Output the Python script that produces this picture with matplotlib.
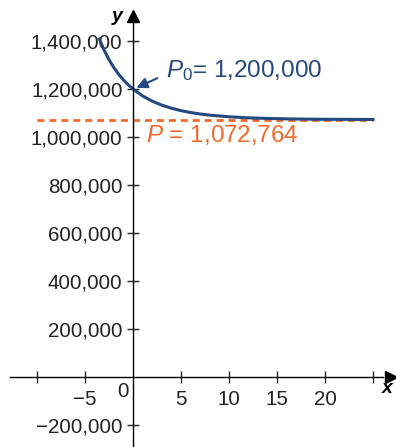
import matplotlib.pyplot as plt

plt.rcParams['font.family'] = ['Liberation Sans', 'DejaVu Sans']
plt.rcParams['mathtext.fontset'] = 'custom'
plt.rcParams['mathtext.it'] = 'Liberation Sans:italic'
plt.rcParams['mathtext.rm'] = 'Liberation Sans'

# population curve
t = [-3.5, -3, -2.5, -2, -1.5, -1, -0.5, 0, 1, 2, 3, 4, 5, 6, 7, 8,
     10, 12, 14, 16, 18, 20, 22, 25]
P = [1407950, 1361528, 1322686, 1289895, 1262018, 1238186, 1217694, 1200000,
     1171331, 1149531, 1132817, 1119876, 1109812, 1101966, 1095810, 1090972,
     1084160, 1079913, 1077256, 1075589, 1074542, 1073883, 1073469, 1073116]
K = 1072764
P0 = 1200000

xticks = [-10, -5, 5, 10, 15, 20, 25]
xlabels = ['', '\u22125', '5', '10', '15', '20', '']
yticks = [-200000, 200000, 400000, 600000, 800000, 1000000, 1200000, 1400000]
ylabels = ['\u2212200,000', '200,000', '400,000', '600,000', '800,000',
           '1,000,000', '1,200,000', '1,400,000']

blue = '#24497f'
orange = '#f26a2a'

fig = plt.figure(figsize=(3.96, 4.47), dpi=100)
ax = fig.add_axes([0, 0, 1, 1])
ax.set_xlim(-13.85, 27.4)
ax.set_ylim(-291667, 1570833)
ax.patch.set_alpha(0)

for s in ['top', 'right']:
    ax.spines[s].set_visible(False)
ax.spines['left'].set_position(('data', 0))
ax.spines['bottom'].set_position(('data', 0))
ax.spines['left'].set_bounds(-291667, 1480000)
ax.spines['bottom'].set_bounds(-12.8, 26.0)
ax.spines['left'].set_linewidth(1.0)
ax.spines['bottom'].set_linewidth(1.0)

ax.set_xticks(xticks)
ax.set_xticklabels(xlabels)
ax.set_yticks(yticks)
ax.set_yticklabels(ylabels)
ax.tick_params(direction='inout', length=9, width=1, labelsize=14.8,
               colors='#222222', pad=3)
ax.tick_params(axis='x', pad=5)

# arrow heads on axes
ax.plot(26.9, 0, marker='>', color='black', markersize=8, clip_on=False)
ax.plot(0, 1505000, marker='^', color='black', markersize=8, clip_on=False)
ax.text(26.5, -50000, 'x', fontsize=14, style='italic', fontweight='bold',
        ha='center', va='center')
ax.text(-1.6, 1500000, 'y', fontsize=14, style='italic', fontweight='bold',
        ha='center', va='center')
ax.text(-1.0, -60000, '0', fontsize=14.8, color='#222222',
        ha='center', va='center')

ax.plot([-10, 25], [K, K], color=orange, linestyle='--', linewidth=2,
        dashes=(2.5, 1.8))
ax.plot(t, P, color=blue, linewidth=2.2)

ax.annotate('', xy=(0.1, P0), xytext=(2.8, 1250000),
            arrowprops=dict(arrowstyle='-|>', color=blue, lw=1.5,
                            mutation_scale=16))
ax.text(3.4, 1275000, '$P_0$= 1,200,000', color=blue, fontsize=17.5,
        ha='left', va='center')
ax.text(1.4, 1008000, '$P$ = 1,072,764', color=orange, fontsize=17.5,
        ha='left', va='center')

fig.savefig('out.png', dpi=100)
